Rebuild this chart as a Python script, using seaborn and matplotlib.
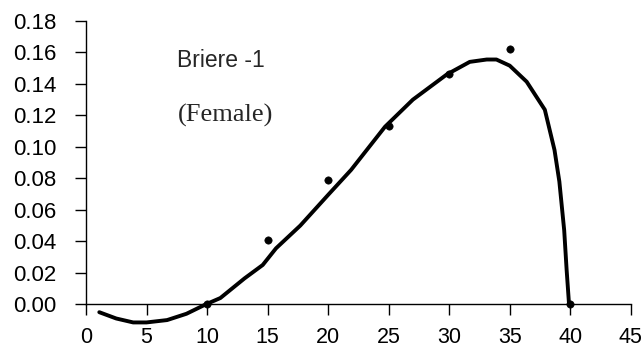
import matplotlib
matplotlib.use("Agg")
import matplotlib.pyplot as plt
import seaborn as sns
import pandas as pd

# observed development rate (females)
temp_obs = [10, 15, 20, 25, 30, 35, 40]
rate_obs = [0.000, 0.041, 0.079, 0.113, 0.146, 0.162, 0.000]

# fitted Briere-1 curve
temp_fit = [1.1, 2.5, 3.9, 5.0, 6.7, 8.3, 9.9, 11.1, 13.1, 14.6, 15.7, 17.7, 20.0, 21.9,
            24.7, 27.0, 29.8, 31.7, 33.1, 33.9, 35.0, 36.4, 37.9, 38.7, 39.1, 39.5, 39.7, 39.9]
rate_fit = [-0.005, -0.009, -0.0115, -0.0115, -0.010, -0.006, 0.000, 0.004, 0.0165, 0.025,
            0.0356, 0.050, 0.0695, 0.0854, 0.1128, 0.130, 0.146, 0.154, 0.1555, 0.1555,
            0.1516, 0.1414, 0.1236, 0.098, 0.078, 0.047, 0.022, 0.000]

x_ticks = [0, 5, 10, 15, 20, 25, 30, 35, 40, 45]
y_ticks = [0.00, 0.02, 0.04, 0.06, 0.08, 0.10, 0.12, 0.14, 0.16, 0.18]

sns.set_style("ticks")
plt.rcParams["font.family"] = ["Liberation Sans", "DejaVu Sans"]

obs = pd.DataFrame({"T": temp_obs, "r": rate_obs})
fit = pd.DataFrame({"T": temp_fit, "r": rate_fit})

fig = plt.figure(figsize=(6.43, 3.49), dpi=100)
ax = fig.add_axes([0.1337, 0.128, 0.8473, 0.812])

sns.lineplot(data=fit, x="T", y="r", color="black", linewidth=2.8,
             sort=False, estimator=None, ax=ax)
for l in ax.lines:
    l.set_clip_on(False)
sns.scatterplot(data=obs, x="T", y="r", color="black", s=28, edgecolor="black",
                zorder=5, clip_on=False, ax=ax)

ax.set_xlim(0, 45)
ax.set_ylim(0, 0.18)
ax.set_xticks(x_ticks)
ax.set_yticks(y_ticks)
ax.set_xticklabels([str(t) for t in x_ticks])
ax.set_yticklabels([f"{t:.2f}" for t in y_ticks])
ax.set_xlabel("")
ax.set_ylabel("")
ax.tick_params(direction="out", length=8, width=1, colors="black")
ax.tick_params(axis="y", pad=13, labelsize=16)
ax.tick_params(axis="x", pad=8, labelsize=15.5)

for side in ["top", "right"]:
    ax.spines[side].set_visible(False)
for side in ["left", "bottom"]:
    ax.spines[side].set_color("black")
    ax.spines[side].set_linewidth(1)

ax.text(7.5, 0.155, "Briere -1", fontsize=16.5, va="center", ha="left")
ax.text(7.6, 0.120, "(Female)", fontsize=19, va="center", ha="left",
        family=["Liberation Serif", "DejaVu Serif"])

fig.savefig("out.png", dpi=100)
